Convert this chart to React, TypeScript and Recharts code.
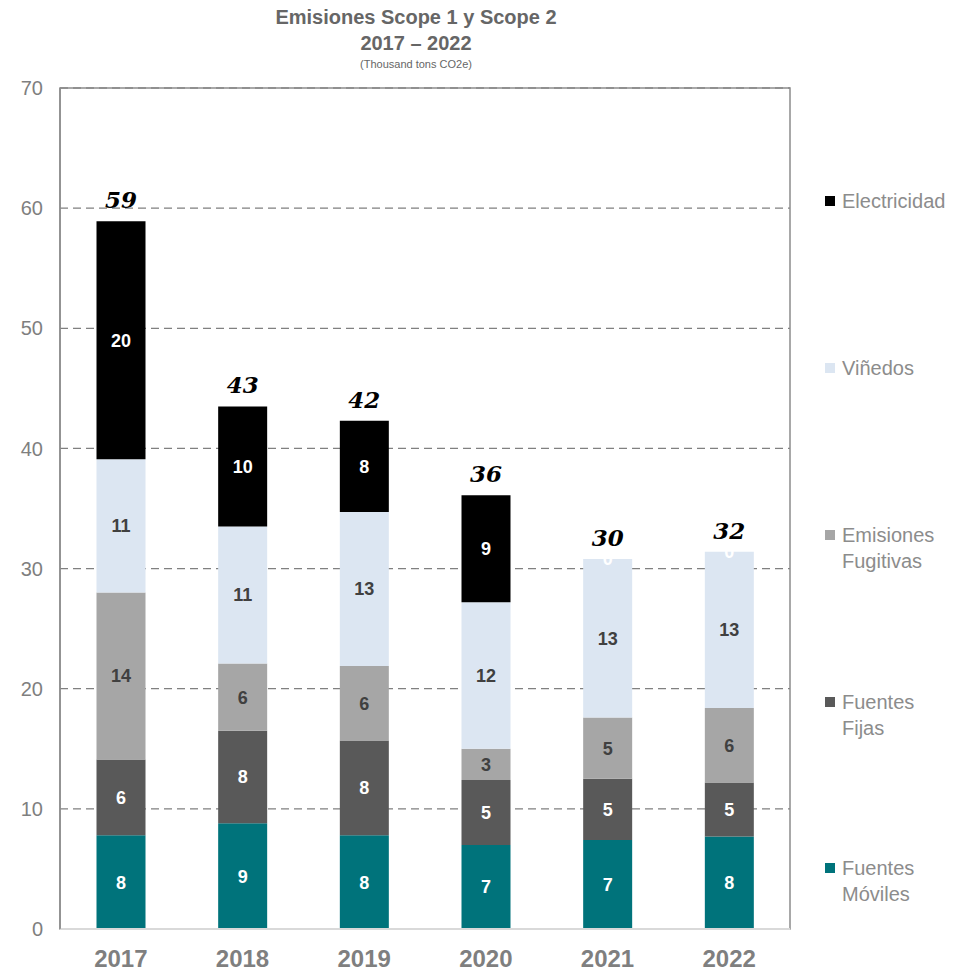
import React from 'react';
import { ComposedChart, Bar, XAxis, YAxis, CartesianGrid, LabelList, ReferenceArea } from 'recharts';

const years = ['2017', '2018', '2019', '2020', '2021', '2022'];
const fuentesMoviles = [7.8, 8.8, 7.8, 7.0, 7.4, 7.7];
const fuentesFijas = [6.3, 7.7, 7.9, 5.4, 5.1, 4.5];
const emisionesFugitivas = [13.9, 5.6, 6.2, 2.6, 5.1, 6.2];
const vinedos = [11.1, 11.4, 12.8, 12.2, 13.2, 13.0];
const electricidad = [19.8, 10.0, 7.6, 8.9, 0, 0];
const totalLabels = [59, 43, 42, 36, 30, 32];
const yTicks = [0, 10, 20, 30, 40, 50, 60, 70];

const data = years.map((y, i) => ({
  year: y,
  moviles: fuentesMoviles[i],
  fijas: fuentesFijas[i],
  fugitivas: emisionesFugitivas[i],
  vinedos: vinedos[i],
  electricidad: electricidad[i],
  total: totalLabels[i],
}));

const COLORS = {
  moviles: '#00737B',
  fijas: '#595959',
  fugitivas: '#A6A6A6',
  vinedos: '#DCE6F2',
  electricidad: '#000000',
};

const legendItems = [
  { key: 'electricidad', lines: ['Electricidad'], top: 180 },
  { key: 'vinedos', lines: ['Viñedos'], top: 347 },
  { key: 'fugitivas', lines: ['Emisiones', 'Fugitivas'], top: 514 },
  { key: 'fijas', lines: ['Fuentes', 'Fijas'], top: 681 },
  { key: 'moviles', lines: ['Fuentes', 'Móviles'], top: 847 },
];

const LegendBox = () => (
  <div style={{ position: 'absolute', left: 817, top: 0, width: 130, height: 965 }}>
    {legendItems.map((it) => (
      <div key={it.key} style={{ position: 'absolute', left: 0, top: it.top, display: 'flex', alignItems: 'flex-start' }}>
        <div style={{ width: 10, height: 10, background: (COLORS as any)[it.key], marginTop: 8, marginRight: 7, flex: 'none' }} />
        <div style={{ fontFamily: 'Liberation Sans, Arial, sans-serif', fontSize: 20, color: '#8C8C8C', lineHeight: '26px', whiteSpace: 'nowrap' }}>
          {it.lines.map((l) => (
            <div key={l}>{l}</div>
          ))}
        </div>
      </div>
    ))}
  </div>
);

const fmt = (v: any) => String(Math.round(Number(v)));

const totalText = (x: number, y: number, width: number, index: number) => (
  <text
    x={x + width / 2}
    y={y - 13}
    textAnchor="middle"
    fontFamily="DejaVu Serif, Georgia, serif"
    fontStyle="italic"
    fontWeight="bold"
    fontSize={23}
    fill="#000"
  >
    {totalLabels[index]}
  </text>
);

const TotalOnElec = (props: any) => {
  const { x, y, width, index } = props;
  if (!electricidad[index]) return null;
  return totalText(x, y, width, index);
};

const TotalOnVin = (props: any) => {
  const { x, y, width, index } = props;
  if (electricidad[index]) return null;
  return (
    <g>
      <text
        x={x + width / 2}
        y={y}
        dy="0.35em"
        textAnchor="middle"
        fontFamily="Liberation Sans, Arial, sans-serif"
        fontWeight="bold"
        fontSize={18}
        fill="#FFFFFF"
      >
        {fmt(electricidad[index])}
      </text>
      {totalText(x, y, width, index)}
    </g>
  );
};

const segLabelStyle = (color: string) => ({
  fill: color,
  fontFamily: 'Liberation Sans, Arial, sans-serif',
  fontWeight: 'bold' as const,
  fontSize: 18,
});

export default function App() {
  return (
    <div style={{ position: 'relative', width: 945, height: 965 }}>
      <div
        style={{
          position: 'absolute',
          left: 0,
          top: 0,
          width: 816,
          textAlign: 'center',
          fontFamily: 'Liberation Sans, Arial, sans-serif',
          color: '#666666',
          zIndex: 2,
        }}
      >
        <div style={{ fontSize: 20, fontWeight: 'bold', lineHeight: '26px', marginTop: -4 }}>Emisiones Scope 1 y Scope 2</div>
        <div style={{ fontSize: 20, fontWeight: 'bold', lineHeight: '26px' }}>2017 – 2022</div>
        <div style={{ fontSize: 11, lineHeight: '14px', marginTop: 1 }}>(Thousand tons CO2e)</div>
      </div>
      <LegendBox />
      <ComposedChart
        width={945}
        height={965}
        data={data}
        margin={{ top: 80, right: 163, bottom: 0, left: 12 }}
        barCategoryGap="30%"
      >
        <CartesianGrid vertical={false} horizontal stroke="#808080" strokeDasharray="8 5" strokeWidth={1.3} />
        <ReferenceArea y1={0} y2={70} fill="none" stroke="#8C8C8C" strokeWidth={1.5} ifOverflow="visible" />
        <XAxis
          dataKey="year"
          height={44}
          tickSize={0}
          tickMargin={21}
          axisLine={{ stroke: '#D9D9D9', strokeWidth: 2 }}
          tick={{ fill: '#7F7F7F', fontSize: 24, fontWeight: 'bold', fontFamily: 'Liberation Sans, Arial, sans-serif' }}
        />
        <YAxis
          domain={[0, 70]}
          ticks={yTicks}
          width={40}
          tickSize={0}
          tickMargin={17}
          axisLine={{ stroke: '#8C8C8C', strokeWidth: 1.5 }}
          tick={{ fill: '#7F7F7F', fontSize: 20, fontFamily: 'Liberation Sans, Arial, sans-serif' }}
          interval={0}
        />
        <Bar dataKey="moviles" stackId="a" fill={COLORS.moviles} isAnimationActive={false}>
          <LabelList dataKey="moviles" position="center" formatter={fmt} style={segLabelStyle('#FFFFFF')} />
        </Bar>
        <Bar dataKey="fijas" stackId="a" fill={COLORS.fijas} isAnimationActive={false}>
          <LabelList dataKey="fijas" position="center" formatter={fmt} style={segLabelStyle('#FFFFFF')} />
        </Bar>
        <Bar dataKey="fugitivas" stackId="a" fill={COLORS.fugitivas} isAnimationActive={false}>
          <LabelList dataKey="fugitivas" position="center" formatter={fmt} style={segLabelStyle('#404040')} />
        </Bar>
        <Bar dataKey="vinedos" stackId="a" fill={COLORS.vinedos} isAnimationActive={false}>
          <LabelList dataKey="vinedos" position="center" formatter={fmt} style={segLabelStyle('#404040')} />
          <LabelList dataKey="total" content={<TotalOnVin />} />
        </Bar>
        <Bar dataKey="electricidad" stackId="a" fill={COLORS.electricidad} isAnimationActive={false}>
          <LabelList dataKey="electricidad" position="center" formatter={fmt} style={segLabelStyle('#FFFFFF')} />
          <LabelList dataKey="total" content={<TotalOnElec />} />
        </Bar>
      </ComposedChart>
    </div>
  );
}
